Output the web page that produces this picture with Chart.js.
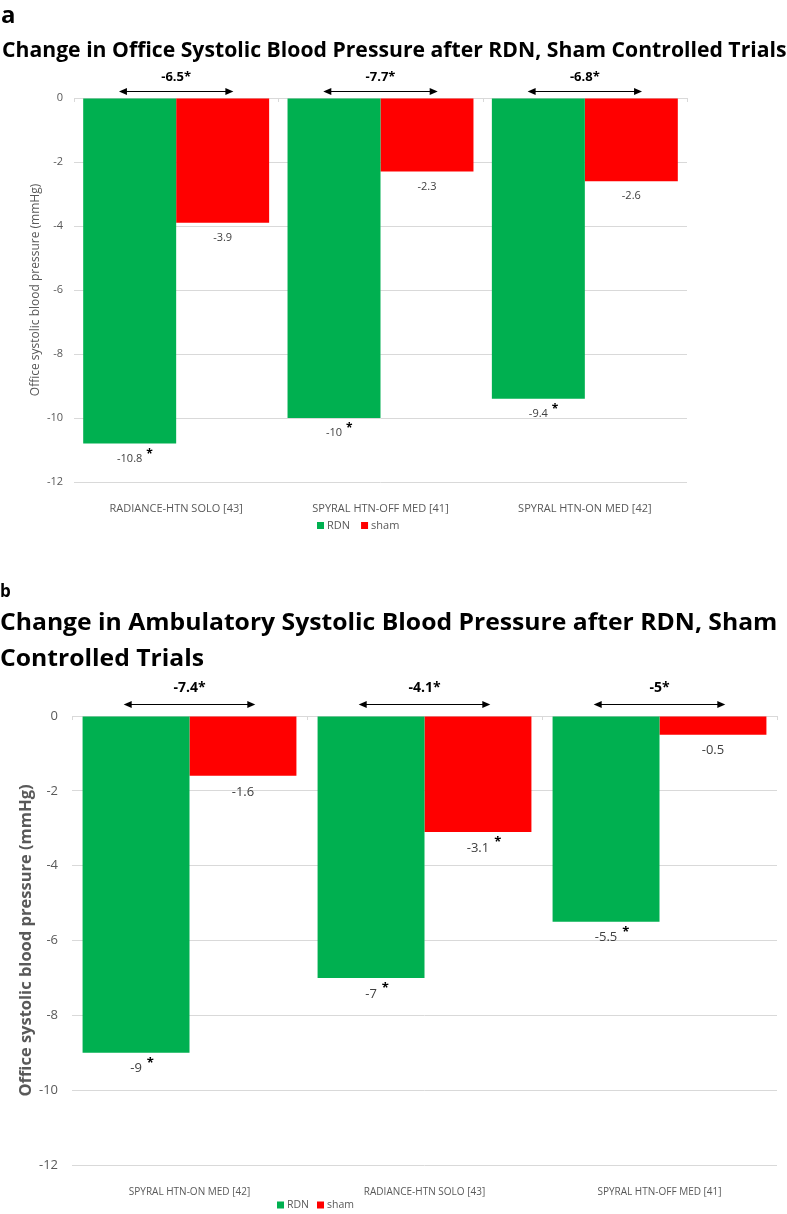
<!DOCTYPE html>
<html><head><meta charset="utf-8">
<script src="https://cdn.jsdelivr.net/npm/chart.js@4.4.0/dist/chart.umd.min.js"></script>
<style>
html,body{margin:0;padding:0;background:#fff;width:787px;height:1214px;overflow:hidden;position:relative}
.t{position:absolute;left:0;white-space:nowrap;font-family:"Open Sans",sans-serif;font-weight:700;color:#000;line-height:1;transform-origin:0 0;z-index:2}
canvas{position:absolute;left:0;top:0}
</style></head><body>
<div class="t" id="la" style="left:1px;top:2px;font-size:24px">a</div>
<div class="t" id="ta" style="left:2px;top:39px;font-size:21px">Change in Office Systolic Blood Pressure after RDN, Sham Controlled Trials</div>
<div class="t" id="lb" style="left:0px;top:582px;font-size:17px">b</div>
<div class="t" id="tb1" style="left:0px;top:609px;font-size:24px">Change in Ambulatory Systolic Blood Pressure after RDN, Sham</div>
<div class="t" id="tb2" style="left:0px;top:645px;font-size:24px">Controlled Trials</div>
<div style="position:absolute;left:0;top:0;width:787px;height:545px"><canvas id="ca" width="787" height="545"></canvas></div>
<div style="position:absolute;left:0;top:560px;width:787px;height:654px"><canvas id="cb" width="787" height="654"></canvas></div>
<script>
// ---------- data ----------
const seriesNames = ["RDN", "sham"];
const yTicks = [0, -2, -4, -6, -8, -10, -12];

const categoriesA = ["RADIANCE-HTN SOLO [43]", "SPYRAL HTN-OFF MED [41]", "SPYRAL HTN-ON MED [42]"];
const rdnA = [-10.8, -10, -9.4];
const shamA = [-3.9, -2.3, -2.6];
const rdnStarA = [true, true, true];
const shamStarA = [false, false, false];
const diffA = [-6.5, -7.7, -6.8];

const categoriesB = ["SPYRAL HTN-ON MED [42]", "RADIANCE-HTN SOLO [43]", "SPYRAL HTN-OFF MED [41]"];
const rdnB = [-9, -7, -5.5];
const shamB = [-1.6, -3.1, -0.5];
const rdnStarB = [true, true, true];
const shamStarB = [false, true, false];
const diffB = [-7.4, -4.1, -5];

const yTitle = "Office systolic blood pressure (mmHg)";
// ---------- style ----------
const GREEN = "#00B050", RED = "#FF0000", GRID = "#D9D9D9", AXIS_TXT = "#595959", LBL_TXT = "#404040";
const OS = "'Open Sans', sans-serif";

function hasFont(name) {
  const c = document.createElement('canvas').getContext('2d');
  const s = 'abcdefghijklmnopqrstuvwxyzABCDEFGHIJKLMNOPQRSTUVWXYZ0123456789';
  c.font = '40px monospace'; const w1 = c.measureText(s).width;
  c.font = "40px '" + name + "', monospace"; const w2 = c.measureText(s).width;
  return Math.abs(w1 - w2) > 1;
}
const NARROW = hasFont('Liberation Sans Narrow');
const NF = "'Liberation Sans Narrow', 'Open Sans', sans-serif";

function drawArrow(ctx, x1, x2, y, hl, hh) {
  ctx.beginPath();
  ctx.moveTo(x1 + hl - 1, y); ctx.lineTo(x2 - hl + 1, y);
  ctx.stroke();
  ctx.beginPath();
  ctx.moveTo(x1, y); ctx.lineTo(x1 + hl, y - hh); ctx.lineTo(x1 + hl, y + hh); ctx.closePath(); ctx.fill();
  ctx.beginPath();
  ctx.moveTo(x2, y); ctx.lineTo(x2 - hl, y - hh); ctx.lineTo(x2 - hl, y + hh); ctx.closePath(); ctx.fill();
}

const annotPlugin = {
  id: 'annot',
  afterDatasetsDraw(chart, args, o) {
    const ctx = chart.ctx, ca = chart.chartArea, xs = chart.scales.x;
    const n = chart.data.labels.length, catW = (ca.right - ca.left) / n;
    ctx.save();
    ctx.strokeStyle = GRID; ctx.lineWidth = 1;
    for (let k = 0; k <= n; k++) {
      const x = Math.round(ca.left + k * catW) + 0.5;
      ctx.beginPath(); ctx.moveTo(x, ca.top); ctx.lineTo(x, ca.top + o.tickLen); ctx.stroke();
    }
    chart.data.datasets.forEach((ds, di) => {
      const meta = chart.getDatasetMeta(di);
      meta.data.forEach((el, i) => {
        const txt = String(ds.data[i]);
        const y = el.y + o.labelOffset;
        ctx.font = o.labelFont; ctx.fillStyle = LBL_TXT; ctx.textAlign = 'center'; ctx.textBaseline = 'middle';
        ctx.fillText(txt, el.x, y);
        if (ds.stars && ds.stars[i]) {
          const w = ctx.measureText(txt).width;
          ctx.font = o.starFont; ctx.fillStyle = '#000'; ctx.textAlign = 'left';
          ctx.fillText('*', el.x + w / 2 + o.starGap, y - o.starRaise);
        }
      });
    });
    ctx.strokeStyle = '#000'; ctx.fillStyle = '#000'; ctx.lineWidth = 1;
    o.diffs.forEach((dv, i) => {
      const cx = xs.getPixelForValue(i), hw = catW * o.arrowRatio;
      drawArrow(ctx, cx - hw, cx + hw, Math.round(ca.top - o.arrowDy) + 0.5, 8, 3.5);
      ctx.font = o.diffFont; ctx.textAlign = 'center'; ctx.textBaseline = 'middle';
      ctx.fillText(String(dv) + '*', cx, ca.top - o.diffDy);
    });
    let lx = o.legendX;
    ctx.font = o.legendFont; ctx.textAlign = 'left'; ctx.textBaseline = 'middle';
    chart.data.datasets.forEach((ds) => {
      ctx.fillStyle = ds.backgroundColor;
      ctx.fillRect(lx, o.legendY - o.legendBox / 2, o.legendBox, o.legendBox);
      lx += o.legendBox + o.legendTextGap;
      ctx.fillStyle = AXIS_TXT;
      ctx.fillText(ds.label, lx, o.legendY);
      lx += ctx.measureText(ds.label).width + o.legendItemGap;
    });
    ctx.restore();
  }
};

function makeChart(id, d, s) {
  return new Chart(document.getElementById(id), {
    type: 'bar',
    data: {
      labels: d.categories,
      datasets: [
        { label: seriesNames[0], data: d.rdn, backgroundColor: GREEN, stars: d.rdnStar },
        { label: seriesNames[1], data: d.sham, backgroundColor: RED, stars: d.shamStar }
      ]
    },
    options: {
      responsive: false, animation: false, devicePixelRatio: 1,
      layout: { padding: { top: s.top, right: s.W - s.right, left: 0, bottom: 0 } },
      datasets: { bar: { categoryPercentage: 0.91, barPercentage: 1 } },
      plugins: {
        legend: { display: false }, tooltip: { enabled: false },
        annot: Object.assign({ diffs: d.diffs }, s.annot)
      },
      scales: {
        x: {
          grid: { display: false }, border: { display: false },
          ticks: { font: s.catFont, color: AXIS_TXT, padding: s.catPad, maxRotation: 0, autoSkip: false },
          afterFit(sc) { sc.height = s.xH; }
        },
        y: {
          min: Math.min(...yTicks), max: Math.max(...yTicks),
          afterBuildTicks(sc) { sc.ticks = yTicks.slice().sort((a, b) => a - b).map(v => ({ value: v })); },
          ticks: { font: s.tickFont, color: AXIS_TXT, padding: s.tickPad },
          grid: { color: GRID, drawTicks: false, lineWidth: 1 },
          border: { display: false },
          title: { display: true, text: yTitle, color: AXIS_TXT, font: s.titleFont, padding: { top: s.titlePad, bottom: 0 } },
          afterFit(sc) { sc.width = s.left; }
        }
      }
    },
    plugins: [annotPlugin]
  });
}

makeChart('ca',
  { categories: categoriesA, rdn: rdnA, sham: shamA, rdnStar: rdnStarA, shamStar: shamStarA, diffs: diffA },
  {
    W: 787, top: 98, left: 74, right: 687, xH: 63,
    catFont: { family: OS, size: 11 }, catPad: 12,
    tickFont: { family: OS, size: 11 }, tickPad: 11,
    titleFont: { family: OS, size: 12 }, titlePad: 28,
    annot: {
      tickLen: 4, labelOffset: 15, labelFont: "11px " + OS, starFont: "bold 12px " + OS, starGap: 4, starRaise: 4.5,
      arrowRatio: 0.28, arrowDy: 7, diffDy: 21, diffFont: "bold 13px " + OS,
      legendX: 317, legendY: 525.5, legendBox: 7, legendTextGap: 3, legendItemGap: 11, legendFont: "11px " + OS
    }
  });

makeChart('cb',
  { categories: categoriesB, rdn: rdnB, sham: shamB, rdnStar: rdnStarB, shamStar: shamStarB, diffs: diffB },
  {
    W: 787, top: 156, left: 72, right: 777, xH: 49,
    catFont: NARROW ? { family: NF, size: 11.5 } : { family: OS, size: 10 }, catPad: 13,
    tickFont: { family: OS, size: 13 }, tickPad: 14,
    titleFont: { family: OS, size: 16.5, weight: 'bold' }, titlePad: 16,
    annot: {
      tickLen: 4, labelOffset: 16, labelFont: "13px " + OS, starFont: "bold 13px " + OS, starGap: 5, starRaise: 5.5,
      arrowRatio: 0.28, arrowDy: 12, diffDy: 28, diffFont: "bold 14px " + OS,
      legendX: 277, legendY: 645, legendBox: 7, legendTextGap: 3, legendItemGap: 8,
      legendFont: NARROW ? "11.5px " + NF : "10.5px " + OS
    }
  });

function fit() {
  const ta = document.getElementById('ta');
  ta.style.transform = 'none';
  ta.style.transform = 'scaleX(' + (785 / ta.offsetWidth) + ')';
  const b1 = document.getElementById('tb1'), b2 = document.getElementById('tb2');
  b1.style.transform = 'none'; b2.style.transform = 'none';
  const k = 777 / b1.offsetWidth;
  b1.style.transform = 'scaleX(' + k + ')';
  b2.style.transform = 'scaleX(' + k + ')';
}
fit();
if (document.fonts && document.fonts.ready) document.fonts.ready.then(fit);
</script>
</body></html>
